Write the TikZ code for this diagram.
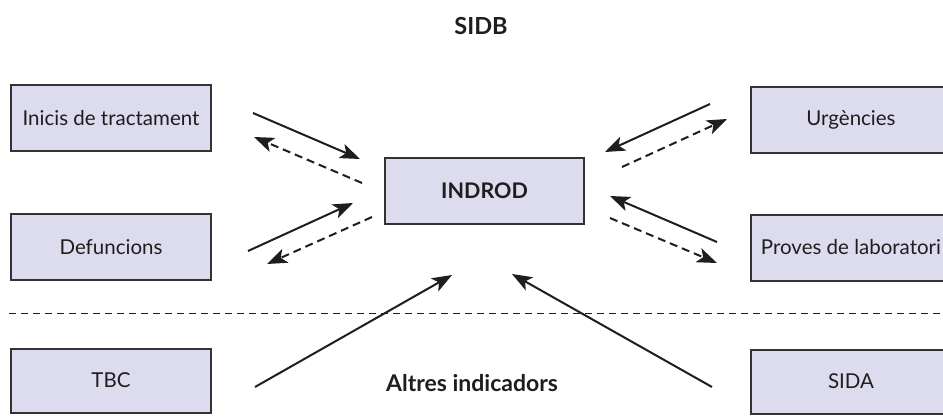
\documentclass[tikz,border=0pt]{standalone}
\usepackage{fontspec}
\setmainfont{Lato}
\usetikzlibrary{arrows.meta}
\definecolor{boxfill}{HTML}{DCDCEE}
\definecolor{boxline}{HTML}{333333}
\definecolor{ink}{HTML}{1E1E1E}
\tikzset{
  srcbox/.style={draw=boxline, fill=boxfill, line width=2pt, minimum width=200pt, minimum height=66pt, inner sep=0pt, text=ink, font=\fontsize{20.5}{24}\selectfont},
  flow/.style={draw=ink, line width=2pt, -{Stealth[length=20pt,width=15pt,inset=5pt]}},
  backflow/.style={flow, dash pattern=on 8pt off 5pt},
  sep/.style={draw=ink, line width=1pt, dash pattern=on 7pt off 5pt},
  titletext/.style={text=ink, font=\fontsize{23.5}{27}\selectfont\bfseries}
}
\begin{document}
\begin{tikzpicture}[x=1pt, y=-1pt]
\useasboundingbox (0,0) rectangle (943,417);
\clip (0,0) rectangle (943,417);
\node[titletext] (sidb) at (481,26) {SIDB};
\node[srcbox] (ini) at (111,118.5) {Inicis de tractament};
\node[srcbox] (def) at (111,247) {Defuncions};
\node[srcbox, minimum width=199pt, font=\fontsize{21.5}{25}\selectfont\bfseries] (ind) at (484.5,191) {INDROD};
\node[srcbox] (urg) at (851,120) {Urgències};
\node[srcbox] (prov) at (851,247.5) {Proves de laboratori};
\node[srcbox, minimum height=64pt] (tbc) at (111,380.5) {TBC};
\node[srcbox, minimum height=64pt] (sida) at (851,381.5) {SIDA};
\node[titletext, font=\fontsize{23}{27}\selectfont\bfseries] (altres) at (472,383) {Altres indicadors};
\coordinate (sl) at (9,313);
\coordinate (sr) at (943,313);
\draw[sep] (sl) -- (sr);
% left side
\coordinate (a1s) at (253,113); \coordinate (a1e) at (360,159);
\coordinate (a2s) at (362,183); \coordinate (a2e) at (254,137);
\coordinate (a3s) at (248,251); \coordinate (a3e) at (353,203);
\coordinate (a4s) at (372,217); \coordinate (a4e) at (267,264);
% right side
\coordinate (a5s) at (710,104); \coordinate (a5e) at (605,152);
\coordinate (a6s) at (622,167); \coordinate (a6e) at (727,119);
\coordinate (a7s) at (717,242); \coordinate (a7e) at (610,196);
\coordinate (a8s) at (610,218); \coordinate (a8e) at (717,263);
% bottom
\coordinate (a9s) at (255,387); \coordinate (a9e) at (452,275);
\coordinate (a10s) at (712,387); \coordinate (a10e) at (512,274);
\draw[flow] (a1s) -- (a1e);
\draw[backflow] (a2s) -- (a2e);
\draw[flow] (a3s) -- (a3e);
\draw[backflow] (a4s) -- (a4e);
\draw[flow] (a5s) -- (a5e);
\draw[backflow] (a6s) -- (a6e);
\draw[flow] (a7s) -- (a7e);
\draw[backflow] (a8s) -- (a8e);
\draw[flow] (a9s) -- (a9e);
\draw[flow] (a10s) -- (a10e);
\end{tikzpicture}
\end{document}
